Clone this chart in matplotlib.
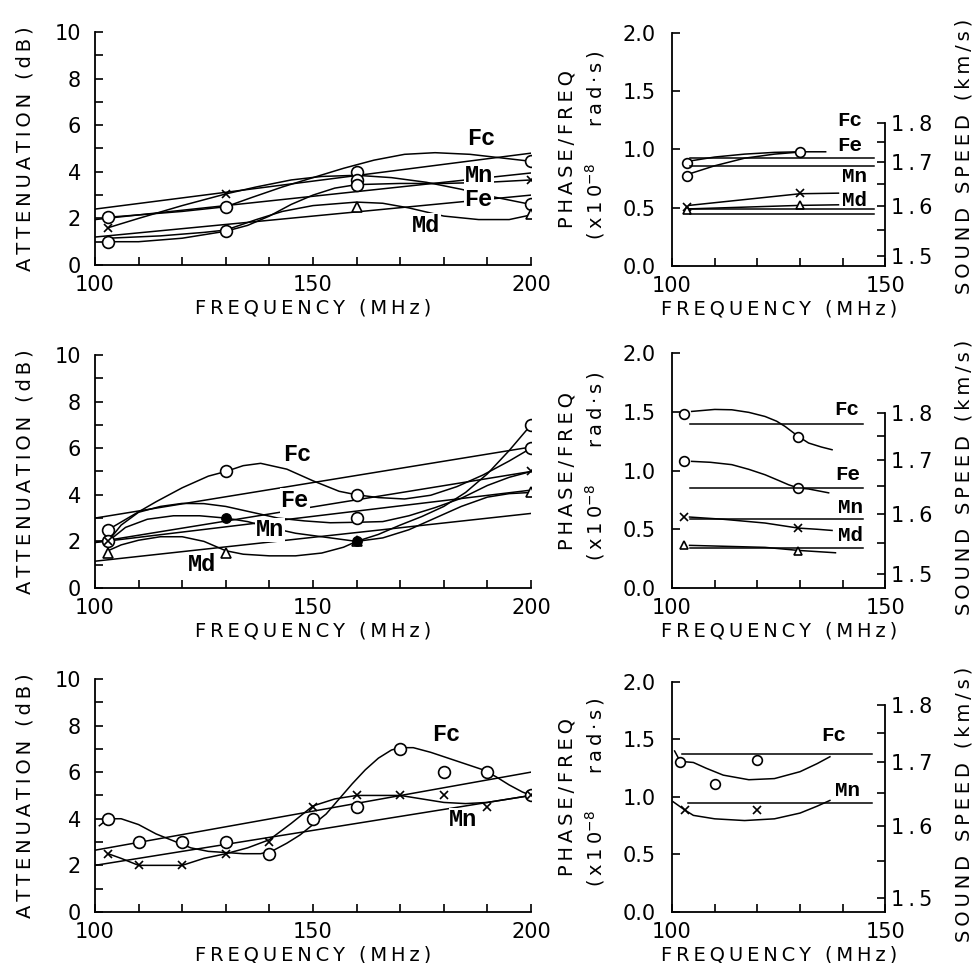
import numpy as np
import matplotlib.pyplot as plt
from matplotlib.ticker import FixedLocator, FuncFormatter, NullFormatter

plt.rcParams['font.family'] = ['DejaVu Sans']
plt.rcParams['font.size'] = 15

# ---------------- top left: attenuation ----------------
a_circle_f = [103, 103, 130, 130, 160, 160, 160, 200, 200]
a_circle_db = [2.05, 1.0, 2.5, 1.45, 4.0, 3.65, 3.45, 4.45, 2.6]
a_cross_f = [103, 130, 200]
a_cross_db = [1.6, 3.05, 3.65]
a_tri_f = [160, 200]
a_tri_db = [2.5, 2.2]

a_fc_f = [103, 110, 120, 130, 136, 143, 150, 157, 164, 171, 178, 186, 193, 200]
a_fc_db = [2.05, 2.15, 2.3, 2.5, 2.9, 3.35, 3.75, 4.15, 4.5, 4.75, 4.82, 4.75, 4.6, 4.45]
a_mn_f = [103, 110, 120, 130, 137, 145, 152, 160, 168, 176, 184, 192, 200]
a_mn_db = [1.6, 2.0, 2.55, 3.05, 3.35, 3.65, 3.8, 3.85, 3.75, 3.55, 3.25, 2.9, 2.6]
a_fe_f = [103, 110, 120, 130, 135, 140, 145, 150, 155, 160, 170, 180, 190, 200]
a_fe_db = [1.0, 1.0, 1.15, 1.45, 1.7, 2.1, 2.6, 3.0, 3.3, 3.45, 3.5, 3.5, 3.55, 3.65]
a_md_f = [103, 115, 125, 130, 137, 143, 150, 160, 166, 172, 180, 188, 195, 200]
a_md_db = [1.15, 1.25, 1.4, 1.5, 1.95, 2.3, 2.55, 2.7, 2.65, 2.45, 2.1, 1.95, 1.95, 2.15]

a_fit_f = [100, 200]
a_fit_fc = [2.4, 4.8]
a_fit_mn = [1.95, 3.95]
a_fit_fe = [1.2, 3.0]

a_labels = ['Fc', 'Mn', 'Fe', 'Md']
a_label_f = [188.5, 188, 188, 176]
a_label_db = [5.45, 3.85, 2.8, 1.7]

# ---------------- middle left ----------------
b_circle_f = [103, 103, 130, 160, 160, 200, 200]
b_circle_db = [2.5, 2.0, 5.0, 4.0, 3.0, 7.0, 6.0]
b_cross_f = [103, 200]
b_cross_db = [2.0, 5.0]
b_tri_f = [103, 130, 160, 200]
b_tri_db = [1.5, 1.5, 2.0, 4.1]
b_dot_f = [130, 160]
b_dot_db = [3.0, 2.0]

b_fc_f = [103, 108, 114, 120, 126, 130, 134, 138, 144, 150, 156, 160, 165, 171, 177, 183, 189, 195, 200]
b_fc_db = [2.5, 3.05, 3.7, 4.3, 4.8, 5.0, 5.25, 5.35, 5.1, 4.6, 4.15, 4.0, 3.88, 3.82, 3.98, 4.35, 4.85, 5.45, 6.0]
b_fe_f = [103, 106, 110, 115, 120, 125, 130, 136, 142, 148, 154, 160, 166, 172, 178, 184, 190, 195, 200]
b_fe_db = [2.0, 2.7, 3.25, 3.5, 3.63, 3.62, 3.5, 3.25, 3.0, 2.88, 2.8, 2.82, 2.85, 3.1, 3.45, 3.85, 4.4, 4.75, 5.0]
b_mn_f = [103, 107, 112, 118, 124, 130, 135, 140, 146, 152, 158, 160, 166, 172, 178, 184, 190, 195, 200]
b_mn_db = [2.0, 2.6, 2.95, 3.1, 3.1, 3.0, 2.85, 2.6, 2.35, 2.2, 2.05, 2.0, 2.15, 2.5, 3.0, 3.5, 3.9, 4.05, 4.1]
b_md_f = [103, 106, 110, 115, 120, 125, 130, 134, 140, 146, 152, 157, 160, 165, 170, 175, 180, 185, 190, 195, 200]
b_md_db = [1.6, 1.85, 2.05, 2.2, 2.2, 2.0, 1.6, 1.45, 1.38, 1.38, 1.5, 1.75, 2.0, 2.3, 2.7, 3.07, 3.5, 4.1, 4.9, 5.9, 7.0]

b_fit_f = [100, 200]
b_fit_fc = [3.0, 6.05]
b_fit_fe = [1.96, 5.0]
b_fit_mn = [1.95, 4.2]
b_fit_md = [1.15, 3.2]

b_labels = ['Fc', 'Fe', 'Mn', 'Md']
b_label_f = [146.5, 145.8, 140.2, 124.6]
b_label_db = [5.75, 3.75, 2.5, 1.0]

# ---------------- bottom left ----------------
c_circle_f = [103, 110, 120, 130, 140, 150, 160, 170, 180, 190, 200]
c_circle_db = [4.0, 3.0, 3.0, 3.0, 2.5, 4.0, 4.5, 7.0, 6.0, 6.0, 5.0]
c_cross_f = [103, 110, 120, 130, 140, 150, 160, 170, 180, 190, 200]
c_cross_db = [2.5, 2.0, 2.0, 2.5, 3.0, 4.5, 5.0, 5.0, 5.0, 4.5, 5.0]

c_fc_f = [101, 103, 106, 110, 114, 118, 122, 126, 130, 134, 138, 141, 144, 147, 150, 153,
          156, 159, 162, 165, 168, 170, 173, 177, 181, 185, 189, 192, 195, 198, 200]
c_fc_db = [3.7, 4.0, 4.0, 3.75, 3.35, 3.05, 2.75, 2.6, 2.55, 2.5, 2.5, 2.65, 2.95, 3.3, 3.75, 4.2,
           4.85, 5.5, 6.1, 6.6, 6.95, 7.05, 7.05, 6.85, 6.6, 6.35, 6.1, 5.8, 5.45, 5.15, 5.0]
c_mn_f = [103, 106, 110, 115, 120, 125, 130, 135, 140, 145, 150, 155, 160, 165, 170, 175, 180, 185, 190, 195, 200]
c_mn_db = [2.5, 2.3, 2.0, 2.0, 2.0, 2.3, 2.5, 2.75, 3.1, 3.8, 4.55, 4.85, 5.0, 5.0, 5.0, 4.85, 4.7, 4.65, 4.7, 4.85, 5.0]

c_fit_f = [100, 200]
c_fit_fc = [2.65, 6.0]
c_fit_mn = [2.0, 5.0]

c_labels = ['Fc', 'Mn']
c_label_f = [180.5, 184.5]
c_label_db = [7.6, 3.95]

# ---------------- top right: phase/freq and sound speed ----------------
d_scale = (6.95, 10.3)
d_circle_f = [103.4, 103.4, 130]
d_circle_p = [0.88, 0.77, 0.98]
d_cross_f = [103.4, 130]
d_cross_p = [0.51, 0.63]
d_tri_f = [103.4, 130]
d_tri_p = [0.48, 0.525]
d_fc_f = [104, 110, 117, 124, 130, 136]
d_fc_p = [0.90, 0.935, 0.96, 0.975, 0.98, 0.98]
d_fe_f = [104, 110, 117, 124, 129]
d_fe_p = [0.79, 0.86, 0.925, 0.96, 0.975]
d_mn_f = [104, 130, 139]
d_mn_p = [0.52, 0.62, 0.625]
d_md_f = [104, 130, 139]
d_md_p = [0.49, 0.52, 0.525]
d_speed = [1.709, 1.691, 1.594, 1.583]
d_speed_f = [104.3, 147.3]
d_labels = ['Fc', 'Fe', 'Mn', 'Md']
d_label_f = [141.6, 141.6, 142.8, 142.8]
d_label_p = [1.25, 1.03, 0.765, 0.565]

# ---------------- middle right ----------------
e_scale = (8.37, 12.38)
e_circle_f = [102.7, 129.6, 102.7, 129.6]
e_circle_p = [1.483, 1.285, 1.078, 0.851]
e_cross_f = [102.7, 129.6]
e_cross_p = [0.604, 0.51]
e_tri_f = [102.7, 129.6]
e_tri_p = [0.368, 0.312]
e_fc_f = [104.6, 110, 114, 118, 121.8, 124.5, 126.5, 129.6, 132, 135, 137.5]
e_fc_p = [1.503, 1.52, 1.517, 1.495, 1.46, 1.42, 1.375, 1.29, 1.234, 1.2, 1.177]
e_fe_f = [104.6, 109, 114, 118, 121.8, 125, 127.3, 129.6, 132, 136.7]
e_fe_p = [1.078, 1.07, 1.05, 1.01, 0.964, 0.915, 0.879, 0.851, 0.843, 0.81]
e_mn_f = [104.1, 112, 121.8, 129.6, 134, 137.5]
e_mn_p = [0.604, 0.585, 0.553, 0.51, 0.5, 0.49]
e_md_f = [104.1, 121.8, 129.6, 138.3]
e_md_p = [0.363, 0.346, 0.32, 0.30]
e_speed = [1.775, 1.6465, 1.5907, 1.5417]
e_speed_f = [104.1, 144.7]
e_labels = ['Fc', 'Fe', 'Mn', 'Md']
e_label_f = [141.0, 141.2, 141.8, 141.8]
e_label_p = [1.517, 0.965, 0.685, 0.45]

# ---------------- bottom right ----------------
f_scale = (10.2, 15.12)
f_circle_f = [101.9, 119.9, 110.1]
f_circle_p = [1.304, 1.319, 1.116]
f_cross_f = [103.1, 119.9]
f_cross_p = [0.884, 0.884]
f_fc_f = [100.6, 101.9, 105, 108, 112, 118, 124, 130, 134, 137]
f_fc_p = [1.40, 1.31, 1.30, 1.25, 1.19, 1.15, 1.16, 1.22, 1.29, 1.35]
f_mn_f = [100.2, 103.1, 105, 110, 117, 124, 130, 134, 137]
f_mn_p = [0.96, 0.884, 0.84, 0.81, 0.795, 0.81, 0.86, 0.92, 0.97]
f_speed = [1.7137, 1.6343]
f_speed_start = [102.3, 103.8]
f_speed_end = 146.8
f_labels = ['Fc', 'Mn']
f_label_f = [137.8, 141.2]
f_label_p = [1.537, 1.058]


def spaced(s):
    return '\u2009'.join(s)


def lines(ax, pairs):
    for x, y in pairs:
        ax.plot(x, y, color='black', lw=1.1, zorder=2)


def markers(ax, circ=None, cross=None, tri=None, dot=None, ms=8.5):
    if circ:
        ax.plot(circ[0], circ[1], 'o', ms=ms, mfc='white', mec='black', mew=1.2, zorder=4)
    if cross:
        ax.plot(cross[0], cross[1], 'x', ms=ms * 0.75, color='black', mew=1.2, zorder=5)
    if tri:
        ax.plot(tri[0], tri[1], '^', ms=ms * 0.85, mfc='white', mec='black', mew=1.2, zorder=4)
    if dot:
        ax.plot(dot[0], dot[1], 'o', ms=ms * 0.8, color='black', zorder=5)


def tags(ax, names, xs, ys, size=17):
    for n, x, y in zip(names, xs, ys):
        ax.text(x, y, n, family=['Liberation Mono', 'DejaVu Sans Mono'], weight='bold',
                fontsize=size, ha='center', va='center', zorder=6,
                bbox=dict(fc='white', ec='none', pad=0.5))


def att_axes(rect):
    ax = fig.add_axes(rect)
    ax.set_xlim(100, 200)
    ax.set_ylim(0, 10)
    ax.spines[['top', 'right']].set_visible(False)
    ax.spines[['left', 'bottom']].set_linewidth(1.3)
    ax.set_xticks([100, 150, 200])
    ax.set_xticks(np.arange(110, 200, 10), minor=True)
    ax.set_yticks(np.arange(0, 11, 2))
    ax.set_yticks(np.arange(1, 10, 2), minor=True)
    ax.tick_params(which='both', direction='in', length=6, width=1.2)
    ax.tick_params(axis='x', pad=7)
    ax.tick_params(axis='y', pad=10)
    ax.text(-0.16, 0.5, spaced('ATTENUATION (dB)'), rotation=90, transform=ax.transAxes,
            ha='center', va='center', fontsize=14)
    ax.text(0.5, -0.185, spaced('FREQUENCY (MHz)'), transform=ax.transAxes,
            ha='center', va='center', fontsize=14)
    return ax


def phase_axes(rect, scale, speeds, f_start, f_end):
    a, b = scale
    ax = fig.add_axes(rect)
    ax.set_xlim(100, 150)
    ax.set_ylim(0, 2)
    ax.spines[['top', 'right']].set_visible(False)
    ax.spines[['left', 'bottom']].set_linewidth(1.3)
    ax.set_xticks([100, 150])
    ax.set_xticks(np.arange(110, 150, 10), minor=True)
    ax.set_yticks(np.arange(0, 2.01, 0.5))
    ax.yaxis.set_major_formatter(FuncFormatter(lambda v, _: f'{v:.1f}'))
    ax.tick_params(which='both', direction='in', length=6, width=1.2)
    ax.tick_params(axis='x', pad=7)
    ax.tick_params(axis='y', pad=12)

    # sound speed axis: phase/freq falls with 1/speed
    ax2 = ax.twinx()
    ax2.set_yscale('function', functions=(lambda c: a - b / np.asarray(c, dtype=float),
                                          lambda p: b / (a - np.asarray(p, dtype=float))))
    for c, f0 in zip(speeds, f_start):
        ax2.plot([f0, f_end], [c, c], color='black', lw=1.1, zorder=2)
    ax2.set_ylim(b / a, b / (a - 2.0))
    ax2.spines[['top', 'left', 'bottom']].set_visible(False)
    ax2.spines['right'].set_linewidth(1.3)
    ax2.spines['right'].set_bounds(b / a, 1.8)
    ax2.yaxis.set_major_locator(FixedLocator([1.5, 1.6, 1.7, 1.8]))
    ax2.yaxis.set_minor_locator(FixedLocator([1.55, 1.65, 1.75]))
    ax2.yaxis.set_major_formatter(FuncFormatter(lambda v, _: spaced(f'{v:.1f}')))
    ax2.yaxis.set_minor_formatter(NullFormatter())
    ax2.tick_params(axis='y', which='both', direction='in', length=6, width=1.2, pad=4)

    ax.text(-0.49, 0.5, spaced('PHASE/FREQ'), rotation=90, transform=ax.transAxes,
            ha='center', va='center', fontsize=14)
    ax.text(-0.36, 0.52, spaced('(x10') + '$^{-8}$' + '      ' + spaced('rad·s)'), rotation=90,
            transform=ax.transAxes, ha='center', va='center', fontsize=14)
    ax.text(1.37, 0.47, spaced('SOUND SPEED (km/s)'), rotation=90, transform=ax.transAxes,
            ha='center', va='center', fontsize=14)
    ax.text(0.5, -0.185, spaced('FREQUENCY (MHz)'), transform=ax.transAxes,
            ha='center', va='center', fontsize=14)
    return ax


fig = plt.figure(figsize=(9.72, 9.63), dpi=100)

# top left
ax = att_axes([0.0977, 0.7248, 0.4486, 0.242])
lines(ax, [(a_fc_f, a_fc_db), (a_mn_f, a_mn_db), (a_fe_f, a_fe_db), (a_md_f, a_md_db),
           (a_fit_f, a_fit_fc), (a_fit_f, a_fit_mn), (a_fit_f, a_fit_fe)])
markers(ax, (a_circle_f, a_circle_db), (a_cross_f, a_cross_db), (a_tri_f, a_tri_db))
tags(ax, a_labels, a_label_f, a_label_db)

# middle left
ax = att_axes([0.0977, 0.3894, 0.4486, 0.242])
lines(ax, [(b_fc_f, b_fc_db), (b_fe_f, b_fe_db), (b_mn_f, b_mn_db), (b_md_f, b_md_db),
           (b_fit_f, b_fit_fc), (b_fit_f, b_fit_fe), (b_fit_f, b_fit_mn), (b_fit_f, b_fit_md)])
markers(ax, (b_circle_f, b_circle_db), (b_cross_f, b_cross_db), (b_tri_f, b_tri_db),
        (b_dot_f, b_dot_db))
tags(ax, b_labels, b_label_f, b_label_db)

# bottom left
ax = att_axes([0.0977, 0.0530, 0.4486, 0.242])
lines(ax, [(c_fc_f, c_fc_db), (c_mn_f, c_mn_db), (c_fit_f, c_fit_fc), (c_fit_f, c_fit_mn)])
markers(ax, (c_circle_f, c_circle_db), (c_cross_f, c_cross_db))
tags(ax, c_labels, c_label_f, c_label_db)

# top right
ax = phase_axes([0.6914, 0.7238, 0.2195, 0.242], d_scale, d_speed,
                [d_speed_f[0]] * len(d_speed), d_speed_f[1])
lines(ax, [(d_fc_f, d_fc_p), (d_fe_f, d_fe_p), (d_mn_f, d_mn_p), (d_md_f, d_md_p)])
markers(ax, (d_circle_f, d_circle_p), (d_cross_f, d_cross_p), (d_tri_f, d_tri_p), ms=7)
tags(ax, d_labels, d_label_f, d_label_p, size=15)

# middle right
ax = phase_axes([0.6914, 0.3894, 0.2195, 0.244], e_scale, e_speed,
                [e_speed_f[0]] * len(e_speed), e_speed_f[1])
lines(ax, [(e_fc_f, e_fc_p), (e_fe_f, e_fe_p), (e_mn_f, e_mn_p), (e_md_f, e_md_p)])
markers(ax, (e_circle_f, e_circle_p), (e_cross_f, e_cross_p), (e_tri_f, e_tri_p), ms=7)
tags(ax, e_labels, e_label_f, e_label_p, size=15)

# bottom right
ax = phase_axes([0.6914, 0.0530, 0.2195, 0.2388], f_scale, f_speed, f_speed_start, f_speed_end)
lines(ax, [(f_fc_f, f_fc_p), (f_mn_f, f_mn_p)])
markers(ax, (f_circle_f, f_circle_p), (f_cross_f, f_cross_p), ms=7)
tags(ax, f_labels, f_label_f, f_label_p, size=15)

fig.savefig('out.png', dpi=100)
